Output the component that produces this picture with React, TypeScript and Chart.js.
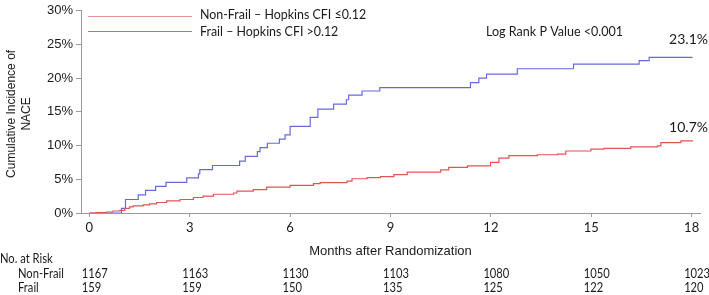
import React, { useEffect, useRef } from "react";
import { Chart, registerables } from "chart.js";

Chart.register(...registerables);

const xTicks = [0, 3, 6, 9, 12, 15, 18];
const yTicks = [0, 5, 10, 15, 20, 25, 30];

const seriesNames = ["Non-Frail \u2013 Hopkins CFI \u22640.12", "Frail \u2013 Hopkins CFI >0.12"];

const nonFrailMonths = [0, 0.2, 0.5, 0.7, 0.91, 1.06, 1.2, 1.31, 1.61, 1.8, 2.01, 2.31, 2.71, 3.11, 3.4, 3.71, 4.31, 4.41, 4.9, 5.3, 6.0, 6.7, 6.9, 7.7, 7.85, 8.3, 8.7, 9.1, 9.5, 10.5, 10.74, 11.3, 11.99, 12.24, 12.54, 13.39, 13.99, 14.24, 14.99, 15.38, 16.18, 16.98, 17.08, 17.68, 18.03];
const nonFrailPct = [0, 0.05, 0.15, 0.3, 0.4, 0.7, 0.9, 1.07, 1.2, 1.35, 1.56, 1.8, 2.0, 2.3, 2.5, 2.78, 2.97, 3.26, 3.47, 3.85, 4.1, 4.35, 4.5, 4.73, 5.08, 5.25, 5.4, 5.7, 6.05, 6.4, 6.78, 7.0, 7.5, 8.15, 8.5, 8.64, 8.74, 9.2, 9.47, 9.6, 9.8, 9.96, 10.44, 10.69, 10.75];

const frailMonths = [0, 0.96, 1.08, 1.46, 1.68, 1.98, 2.29, 2.91, 3.26, 3.3, 3.68, 4.49, 4.66, 5.02, 5.1, 5.32, 5.68, 5.85, 6.0, 6.6, 6.83, 7.3, 7.68, 7.75, 8.15, 8.68, 11.39, 11.64, 11.87, 12.79, 14.47, 16.43, 16.73, 18.03];
const frailPct = [0, 0.7, 2.0, 2.7, 3.35, 3.95, 4.55, 5.2, 5.8, 6.45, 7.05, 7.7, 8.4, 9.1, 9.7, 10.35, 10.95, 11.6, 12.85, 14.2, 15.4, 16.15, 16.8, 17.5, 18.1, 18.6, 19.35, 20.0, 20.6, 21.4, 22.1, 22.6, 23.1, 23.1];

const riskLabels = ["Non-Frail", "Frail"];
const riskNonFrail = [1167, 1163, 1130, 1103, 1080, 1050, 1023];
const riskFrail = [159, 159, 150, 135, 125, 122, 120];

const endLabels = ["10.7%", "23.1%"];
const pValueText = "Log Rank P Value <0.001";
const xTitle = "Months after Randomization";
const yTitle = ["Cumulative Incidence of", "NACE"];
const riskTitle = "No. at Risk";

const RED = "rgb(226,84,84)";
const BLUE = "rgb(104,104,222)";
const TEXT = "#1a1a1a";
const AXIS = "#9a9a9a";

function narrowText(ctx: CanvasRenderingContext2D, text: string, x: number, y: number, sx: number) {
  ctx.save();
  ctx.translate(x, y);
  ctx.scale(sx, 1);
  ctx.fillText(text, 0, 0);
  ctx.restore();
}

export default function App() {
  const ref = useRef<HTMLCanvasElement | null>(null);

  useEffect(() => {
    const canvas = ref.current;
    if (!canvas) return;

    const overlay = {
      id: "overlay",
      afterDraw(chart: any) {
        const ctx = chart.ctx as CanvasRenderingContext2D;
        const xs = chart.scales.x;
        const ys = chart.scales.y;
        ctx.save();
        // legend
        ctx.lineWidth = 1;
        ctx.strokeStyle = "rgb(222,150,150)";
        ctx.beginPath();
        ctx.moveTo(88, 16.5);
        ctx.lineTo(192, 16.5);
        ctx.stroke();
        ctx.strokeStyle = "rgb(130,130,196)";
        ctx.beginPath();
        ctx.moveTo(88, 31.5);
        ctx.lineTo(192, 31.5);
        ctx.stroke();
        ctx.fillStyle = TEXT;
        ctx.font = "13px Lato";
        ctx.textAlign = "left";
        ctx.textBaseline = "middle";
        narrowText(ctx, seriesNames[0], 200, 15, 0.955);
        narrowText(ctx, seriesNames[1], 200, 32, 0.955);

        // p value
        narrowText(ctx, pValueText, 486, 31.5, 0.965);

        // end labels
        ctx.font = "14px Lato";
        ctx.textAlign = "right";
        ctx.fillText(endLabels[1], 708, 39.5);
        ctx.fillText(endLabels[0], 708, 127);

        // x title
        ctx.font = "13px 'Liberation Sans'";
        ctx.textAlign = "center";
        ctx.fillText(xTitle, (xs.getPixelForValue(0) + xs.getPixelForValue(18)) / 2, 251.5);

        // y title
        const cy = (ys.top + ys.bottom) / 2 + 2;
        ctx.save();
        ctx.translate(11.5, cy);
        ctx.rotate(-Math.PI / 2);
        ctx.font = "12px 'Liberation Sans'";
        ctx.textAlign = "center";
        ctx.fillText(yTitle[0], 0, 0);
        ctx.fillText(yTitle[1], 0, 15.5);
        ctx.restore();

        // risk table
        ctx.font = "13px Lato";
        ctx.textAlign = "left";
        const sx = 0.86;
        narrowText(ctx, riskTitle, 0, 258.5, sx);
        narrowText(ctx, riskLabels[0], 18, 273.5, sx);
        narrowText(ctx, riskLabels[1], 18, 288, sx);
        xTicks.forEach((t, i) => {
          const px = xs.getPixelForValue(t) - 7.5;
          narrowText(ctx, String(riskNonFrail[i]), px, 273.5, sx);
          narrowText(ctx, String(riskFrail[i]), px, 288, sx);
        });
        ctx.restore();
      },
    };

    const chart = new Chart(canvas, {
      type: "line",
      data: {
        datasets: [
          {
            label: seriesNames[0],
            data: nonFrailMonths.map((m, i) => ({ x: m, y: nonFrailPct[i] })),
            borderColor: RED,
            borderWidth: 1.2,
            pointRadius: 0,
            stepped: "before",
            fill: false,
          },
          {
            label: seriesNames[1],
            data: frailMonths.map((m, i) => ({ x: m, y: frailPct[i] })),
            borderColor: BLUE,
            borderWidth: 1.2,
            pointRadius: 0,
            stepped: "before",
            fill: false,
          },
        ],
      },
      options: {
        animation: false,
        responsive: false,
        maintainAspectRatio: false,
        layout: { padding: { top: 0, right: 9, left: 0, bottom: 0 } },
        plugins: {
          legend: { display: false },
          tooltip: { enabled: false },
          title: { display: false },
        },
        scales: {
          x: {
            type: "linear",
            min: -0.25,
            max: 18.25,
            afterBuildTicks: (s: any) => {
              s.ticks = xTicks.map((v) => ({ value: v }));
            },
            afterFit: (s: any) => {
              s.height = 82;
            },
            ticks: {
              font: { family: "Lato", size: 13 },
              color: TEXT,
              padding: 3,
              maxRotation: 0,
              autoSkip: false,
            },
            grid: { drawOnChartArea: false, drawTicks: true, tickLength: 4, color: AXIS },
            border: { color: AXIS, width: 1 },
          },
          y: {
            type: "linear",
            min: 0,
            max: 30,
            afterBuildTicks: (s: any) => {
              s.ticks = yTicks.map((v) => ({ value: v }));
            },
            afterFit: (s: any) => {
              s.width = 81;
            },
            ticks: {
              font: { family: "'Liberation Sans'", size: 13 },
              color: TEXT,
              padding: 3,
              callback: (v: any) => v + "%",
            },
            grid: { drawOnChartArea: false, drawTicks: true, tickLength: 5, color: AXIS },
            border: { color: AXIS, width: 1 },
          },
        },
      },
      plugins: [overlay],
    });

    return () => chart.destroy();
  }, []);

  return (
    <div style={{ position: "fixed", left: 0, top: 0, width: 709, height: 295, background: "#fff" }}>
      <canvas ref={ref} width={709} height={295} style={{ display: "block", width: 709, height: 295 }} />
    </div>
  );
}
